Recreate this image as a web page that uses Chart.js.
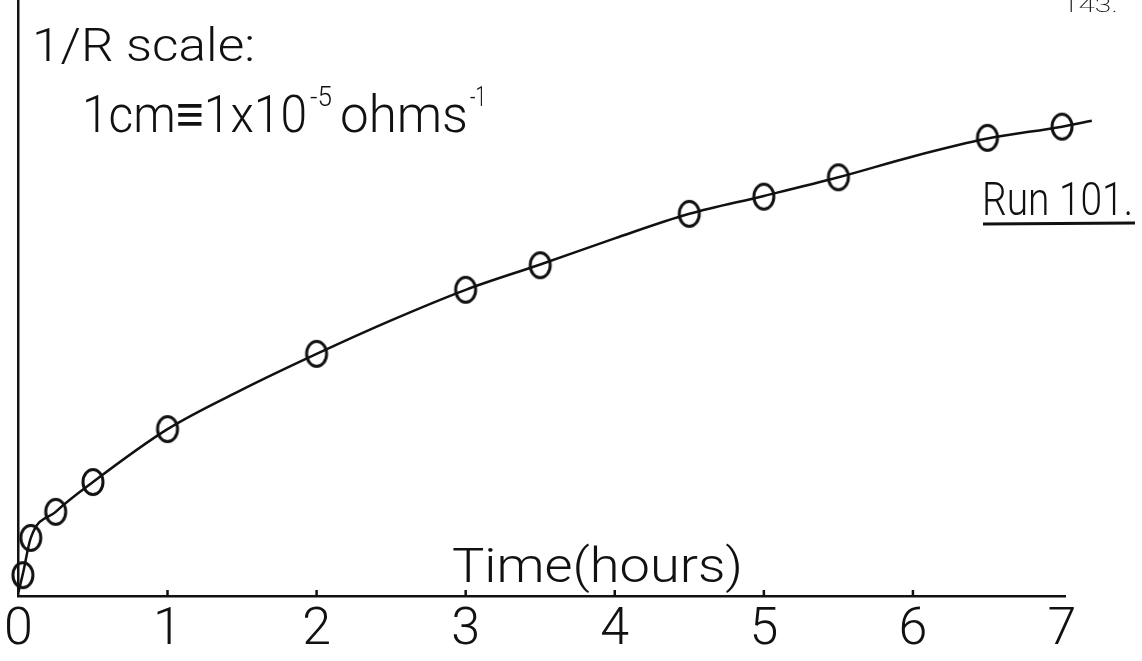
<!DOCTYPE html>
<html>
<head>
<meta charset="utf-8">
<title>Run 101 – 1/R against time</title>
<script src="https://cdn.jsdelivr.net/npm/chart.js@4.4.1/dist/chart.umd.min.js"></script>
<style>
  html, body { margin: 0; padding: 0; background: #ffffff; }
  #wrap { width: 1142px; height: 661px; position: relative; }
</style>
</head>
<body>
<div id="wrap"><canvas id="chart" width="1142" height="661"></canvas></div>
<script>
// Measured readings, Run 101: time in hours, 1/R in units of 1x10^-5 ohms^-1 (1 cm on the sheet)
const hours = [0.03, 0.083, 0.25, 0.5, 1, 2, 3, 3.5, 4.5, 5, 5.5, 6.5, 7];
const conductance = [0.28, 0.78, 1.13, 1.53, 2.24, 3.25, 4.11, 4.44, 5.13, 5.36, 5.62, 6.15, 6.30];

// Hand-drawn smooth curve through the readings
const curveHours = [0, 0.03, 0.083, 0.25, 0.5, 1, 1.5, 2, 2.5, 3, 3.5, 4, 4.5, 5, 5.5, 6, 6.5, 7, 7.2];
const curveValues = [0.05, 0.30, 0.78, 1.13, 1.53, 2.24, 2.77, 3.25, 3.70, 4.11, 4.45, 4.80, 5.13, 5.37, 5.62, 5.90, 6.14, 6.30, 6.38];

// Axis tick labels
const timeTicks = [0, 1, 2, 3, 4, 5, 6, 7];

const INK = '#111111';
const FONT = 'Roboto, "DejaVu Sans", sans-serif';

// Open elliptical marker, as drawn with a lettering stencil
function ellipseMarker() {
  const c = document.createElement('canvas');
  c.width = 28; c.height = 34;
  const g = c.getContext('2d');
  g.strokeStyle = INK;
  g.lineWidth = 3;
  g.beginPath();
  g.ellipse(14, 17, 10, 12.5, 0, 0, Math.PI * 2);
  g.stroke();
  return c;
}

// Draws text squeezed/stretched horizontally to the given width
function fitText(ctx, text, x, baseline, size, weight, width) {
  ctx.save();
  ctx.font = weight + ' ' + size + 'px ' + FONT;
  ctx.textAlign = 'left';
  ctx.textBaseline = 'alphabetic';
  const w = ctx.measureText(text).width;
  const k = width ? width / w : 1;
  ctx.translate(x, baseline);
  ctx.scale(k, 1);
  ctx.fillText(text, 0, 0);
  ctx.restore();
  return width || w;
}

const annotations = {
  id: 'annotations',
  afterDraw(chart) {
    const ctx = chart.ctx;
    const xs = chart.scales.x;
    const area = chart.chartArea;
    ctx.save();
    ctx.fillStyle = INK;
    ctx.strokeStyle = INK;

    // small upward tick marks on the time axis
    ctx.lineWidth = 2.5;
    timeTicks.slice(1, -1).forEach(t => {
      const px = xs.getPixelForValue(t);
      ctx.beginPath();
      ctx.moveTo(px, area.bottom);
      ctx.lineTo(px, area.bottom - 6);
      ctx.stroke();
    });

    // scale note
    fitText(ctx, '1/R scale:', 32, 61, 46, 300, 223);
    let x = 82;
    x += fitText(ctx, '1cm\u22611x10', x, 132, 52, 300, 225) + 3;
    x += fitText(ctx, '-5', x, 106, 27, 300, 22) + 8;
    x += fitText(ctx, 'ohms', x, 132, 52, 300, 128) + 2;
    fitText(ctx, '-1', x, 106, 27, 300, 16);

    // axis title
    fitText(ctx, 'Time(hours)', 452, 582, 49, 300, 291);

    // run label, underlined
    fitText(ctx, 'Run 101.', 982, 215, 46, 300, 151);
    ctx.lineWidth = 3;
    ctx.beginPath();
    ctx.moveTo(983, 224);
    ctx.lineTo(1135, 223);
    ctx.stroke();

    // sheet number
    fitText(ctx, '143.', 1062, 12, 21, 200, 56);
    ctx.restore();
  }
};

new Chart(document.getElementById('chart'), {
  type: 'scatter',
  data: {
    datasets: [
      {
        label: 'curve',
        type: 'line',
        data: curveHours.map((h, i) => ({ x: h, y: curveValues[i] })),
        borderColor: INK,
        borderWidth: 2.5,
        pointRadius: 0,
        cubicInterpolationMode: 'monotone',
        fill: false,
        clip: false,
        order: 2
      },
      {
        label: 'Run 101',
        data: hours.map((h, i) => ({ x: h, y: conductance[i] })),
        pointStyle: ellipseMarker(),
        pointRadius: 12,
        showLine: false,
        clip: false,
        order: 1
      }
    ]
  },
  options: {
    responsive: false,
    animation: false,
    events: [],
    layout: { autoPadding: false, padding: { top: 0, right: 77, bottom: 0, left: 0 } },
    plugins: { legend: { display: false }, tooltip: { enabled: false } },
    scales: {
      x: {
        type: 'linear',
        min: 0,
        max: 7.02,
        afterFit(scale) { scale.height = 65; },
        grid: { display: false, drawTicks: false },
        border: { display: true, color: INK, width: 2.5 },
        ticks: {
          stepSize: 1,
          includeBounds: false,
          padding: 4,
          color: INK,
          font: { family: FONT, size: 52, weight: 300 },
          maxRotation: 0,
          callback: v => timeTicks.includes(v) ? String(v) : ''
        }
      },
      y: {
        type: 'linear',
        min: 0,
        max: 8,
        afterFit(scale) { scale.width = 16; },
        grid: { display: false, drawTicks: false },
        border: { display: true, color: INK, width: 2.5 },
        ticks: { display: false }
      }
    }
  },
  plugins: [annotations]
});
</script>
</body>
</html>
